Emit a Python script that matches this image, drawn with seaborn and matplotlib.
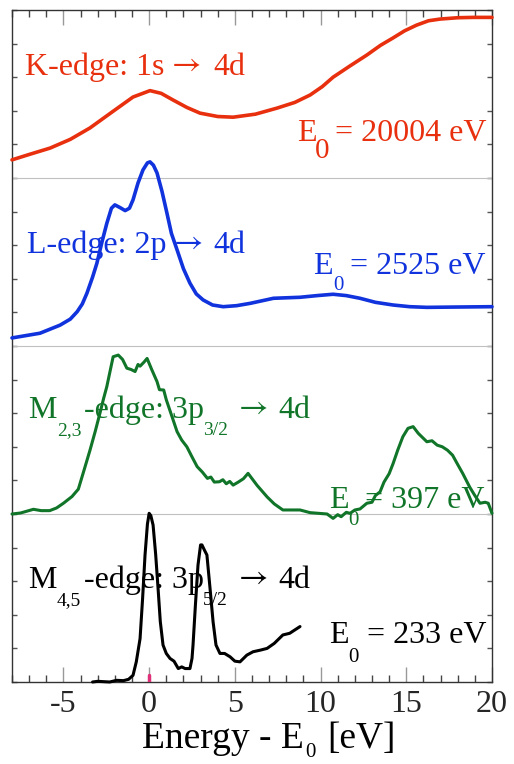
import numpy as np
import pandas as pd
import matplotlib
matplotlib.use("Agg")
import matplotlib.pyplot as plt
import seaborn as sns
from matplotlib.ticker import MultipleLocator

# ---------------- data ----------------
k_energy = [-8, -7, -5.78, -4.6, -3.45, -2.2, -0.94, 0.05, 0.7, 1.4, 2.2, 2.97, 4.0, 4.9,
            6.2, 7.46, 8.5, 9.39, 10.1, 10.73, 11.7, 12.7, 13.5, 14.2, 14.9, 15.6, 16.3,
            16.97, 18.0, 18.9, 20]
k_signal = [15.54, 15.70, 15.89, 16.15, 16.49, 16.95, 17.41, 17.60, 17.52, 17.32, 17.10,
            16.93, 16.83, 16.81, 16.90, 17.08, 17.25, 17.47, 17.72, 18.0, 18.33, 18.66,
            18.95, 19.16, 19.38, 19.55, 19.68, 19.73, 19.77, 19.78, 19.78]

l_energy = [-8, -6.37, -5.2, -4.6, -4.2, -3.9, -3.63, -3.3, -3.05, -2.75, -2.47, -2.2, -2.0,
            -1.7, -1.4, -1.15, -0.94, -0.65, -0.36, -0.1, 0.05, 0.25, 0.46, 0.75, 1.04, 1.3,
            1.63, 2.0, 2.38, 2.75, 3.15, 3.7, 4.32, 5.1, 5.9, 7.25, 8.8, 9.8, 10.73, 11.5,
            12.3, 13.2, 14.23, 15.2, 16.2, 18, 20]
l_signal = [10.24, 10.38, 10.62, 10.80, 11.02, 11.25, 11.57, 12.05, 12.46, 13.1, 13.65, 14.1,
            14.2, 14.12, 14.03, 14.1, 14.35, 14.85, 15.24, 15.45, 15.48, 15.38, 15.15, 14.6,
            13.95, 13.35, 12.86, 12.3, 11.87, 11.55, 11.37, 11.22, 11.17, 11.2, 11.27, 11.42,
            11.45, 11.5, 11.54, 11.5, 11.42, 11.3, 11.22, 11.17, 11.15, 11.16, 11.17]

m23_energy = [-8, -7.5, -6.75, -6.3, -5.8, -5.4, -5.0, -4.5, -4.13, -3.8, -3.45, -3.15, -2.87,
              -2.65, -2.47, -2.3, -2.1, -1.8, -1.55, -1.3, -1.05, -0.82, -0.65, -0.53, -0.3,
              -0.12, 0.15, 0.46, 0.6, 0.85, 1.0, 1.3, 1.63, 1.9, 2.2, 2.5, 2.8, 3.1, 3.4, 3.6,
              3.8, 4.1, 4.3, 4.5, 4.7, 4.9, 5.2, 5.5, 5.77, 6.3, 6.88, 7.3, 7.8, 8.8, 9.39,
              10.38, 10.73, 11.0, 11.2, 11.5, 11.72, 12.0, 12.3, 12.7, 13.0, 13.2, 13.47, 13.7,
              14.0, 14.23, 14.5, 14.8, 15.1, 15.4, 15.7, 16.0, 16.2, 16.5, 16.8, 17.1, 17.4,
              17.7, 17.97, 18.3, 18.7, 19.0, 19.3, 19.6, 19.78, 20]
m23_signal = [5.0, 5.03, 5.14, 5.10, 5.10, 5.18, 5.32, 5.52, 5.74, 6.3, 6.90, 7.45, 8.0, 8.45,
              8.79, 9.2, 9.68, 9.73, 9.6, 9.34, 9.3, 9.24, 9.45, 9.40, 9.52, 9.63, 9.3, 8.94,
              8.7, 8.69, 8.4, 7.95, 7.45, 7.2, 7.0, 6.7, 6.41, 6.25, 6.06, 6.1, 5.95, 5.96,
              6.02, 5.9, 5.97, 5.86, 5.95, 6.05, 6.21, 5.85, 5.51, 5.3, 5.12, 5.12, 5.04, 5.0,
              4.87, 4.98, 4.92, 5.05, 5.02, 5.12, 5.15, 5.32, 5.35, 5.55, 5.66, 5.95, 6.2, 6.50,
              6.9, 7.30, 7.55, 7.60, 7.4, 7.25, 7.15, 7.18, 7.05, 7.0, 6.90, 6.75, 6.50, 6.2,
              5.80, 5.55, 5.32, 5.35, 5.32, 5.02]

m45_energy = [-3.3, -3.0, -2.3, -1.9, -1.5, -1.2, -0.94, -0.75, -0.53, -0.38, -0.24, -0.1, 0.0,
              0.1, 0.23, 0.38, 0.52, 0.65, 0.81, 1.0, 1.22, 1.45, 1.7, 1.9, 2.1, 2.38, 2.5,
              2.56, 2.7, 2.85, 3.0, 3.08, 3.25, 3.37, 3.55, 3.73, 3.9, 4.13, 4.4, 4.72, 5.0,
              5.3, 5.7, 6.06, 6.5, 6.88, 7.3, 7.8, 8.2, 8.5, 8.8]
m45_signal = [0.0, 0.02, 0.0, 0.05, 0.04, 0.08, 0.2, 0.6, 1.29, 2.5, 3.78, 4.7, 5.02, 4.95,
              4.67, 3.8, 2.79, 1.8, 1.10, 0.85, 0.70, 0.62, 0.40, 0.45, 0.40, 0.40, 0.7, 1.10,
              2.3, 3.48, 4.08, 4.08, 3.9, 3.78, 2.8, 1.79, 1.1, 0.85, 0.85, 0.75, 0.62, 0.60,
              0.8, 0.90, 0.95, 1.0, 1.15, 1.40, 1.45, 1.55, 1.65]

x_ticks = [-5, 0, 5, 10, 15, 20]

# ---------------- style ----------------
sns.set_style("ticks")
plt.rcParams["font.family"] = ["Liberation Serif", "DejaVu Serif"]
plt.rcParams["axes.unicode_minus"] = False

W, H = 514, 764
fig = plt.figure(figsize=(W / 100, H / 100), dpi=100)
ax = fig.add_axes([12 / W, 82 / H, 480 / W, 672 / H])

red, blue, green, black = "#e8300f", "#1033dd", "#107528", "#000000"

curves = [
    (k_energy, k_signal, red, 2.6),
    (l_energy, l_signal, blue, 2.6),
    (m23_energy, m23_signal, green, 2.2),
    (m45_energy, m45_signal, black, 2.2),
]
for e, s, c, lw in curves:
    df = pd.DataFrame({"E": e, "S": s})
    sns.lineplot(data=df, x="E", y="S", ax=ax, color=c, lw=lw, sort=False,
                 estimator=None, clip_on=False, zorder=3)

for yb in (5, 10, 15):
    ax.axhline(yb, color="#c0c0c0", lw=0.8, zorder=1)

ax.set_xlim(-8, 20)
ax.set_ylim(0, 20)
ax.set_xticks(x_ticks)
ax.xaxis.set_minor_locator(MultipleLocator(1))
ax.yaxis.set_major_locator(MultipleLocator(1))
ax.set_yticklabels([])
ax.tick_params(axis="x", which="major", direction="in", top=True, bottom=True,
               length=11, width=1, color="#999999", labelsize=23, pad=6)
ax.tick_params(axis="x", which="minor", direction="in", top=True, bottom=True,
               length=5, width=1, color="#444444")
ax.tick_params(axis="y", which="major", direction="in", left=True, right=True,
               length=3.5, width=1, color="#555555", labelleft=False)
for sp in ax.spines.values():
    sp.set_color("#333333")
    sp.set_linewidth(1)
ax.set_xlabel("")
ax.set_ylabel("")

# pink marker at E0 on the bottom axis
ax.axvline(0, ymin=0, ymax=7 / 672, color="#e0307a", lw=2.5, zorder=4)


def put(x_px, base_px, s, size, color, **kw):
    ax.text(x_px / W, 1 - base_px / H, s, fontsize=size, color=color, ha="left",
            va="baseline", transform=fig.transFigure, clip_on=False, zorder=2, **kw)


def arrow(x_px, base_px, color):
    put(x_px, base_px - 2, "→", 23, color, family=["STIXGeneral", "DejaVu Serif"])


fs, fsub = 23, 14
# K-edge
put(25, 75, "K-edge: 1s", fs, red)
arrow(172, 75, red)
put(213, 75, "4d", fs, red)
put(297, 141, "E", fs, red)
put(315, 158, "0", 21, red)
put(335, 141, "= 20004 eV", fs, red)
# L-edge
put(27, 253, "L-edge: 2p", fs, blue)
arrow(174, 253, blue)
put(213, 253, "4d", fs, blue)
put(313, 274, "E", fs, blue)
put(333, 290, "0", 15, blue)
put(350, 274, "= 2525 eV", fs, blue)
# M2,3-edge
put(28, 418, "M", fs, green)
put(57, 435, "2,3", fsub, green)
put(84, 418, "-edge: 3p", fs, green)
put(203, 435, "3/2", fsub, green)
arrow(239, 418, green)
put(278, 418, "4d", fs, green)
put(329, 508, "E", fs, green)
put(348, 525, "0", 15, green)
put(365, 508, "= 397 eV", fs, green)
# M4,5-edge
put(28, 588, "M", fs, black)
put(57, 605, "4,5", fsub, black)
put(84, 588, "-edge: 3p", fs, black)
put(203, 605, "5/2", fsub, black)
arrow(239, 588, black)
put(278, 588, "4d", fs, black)
put(329, 643, "E", fs, black)
put(348, 662, "0", 15, black)
put(367, 643, "= 233 eV", fs, black)
# axis label
put(142, 748, "Energy - E", 27, black)
put(305, 757, "0", 15, black)
put(327, 748, "[eV]", 27, black)

fig.savefig("out.png", dpi=100)
